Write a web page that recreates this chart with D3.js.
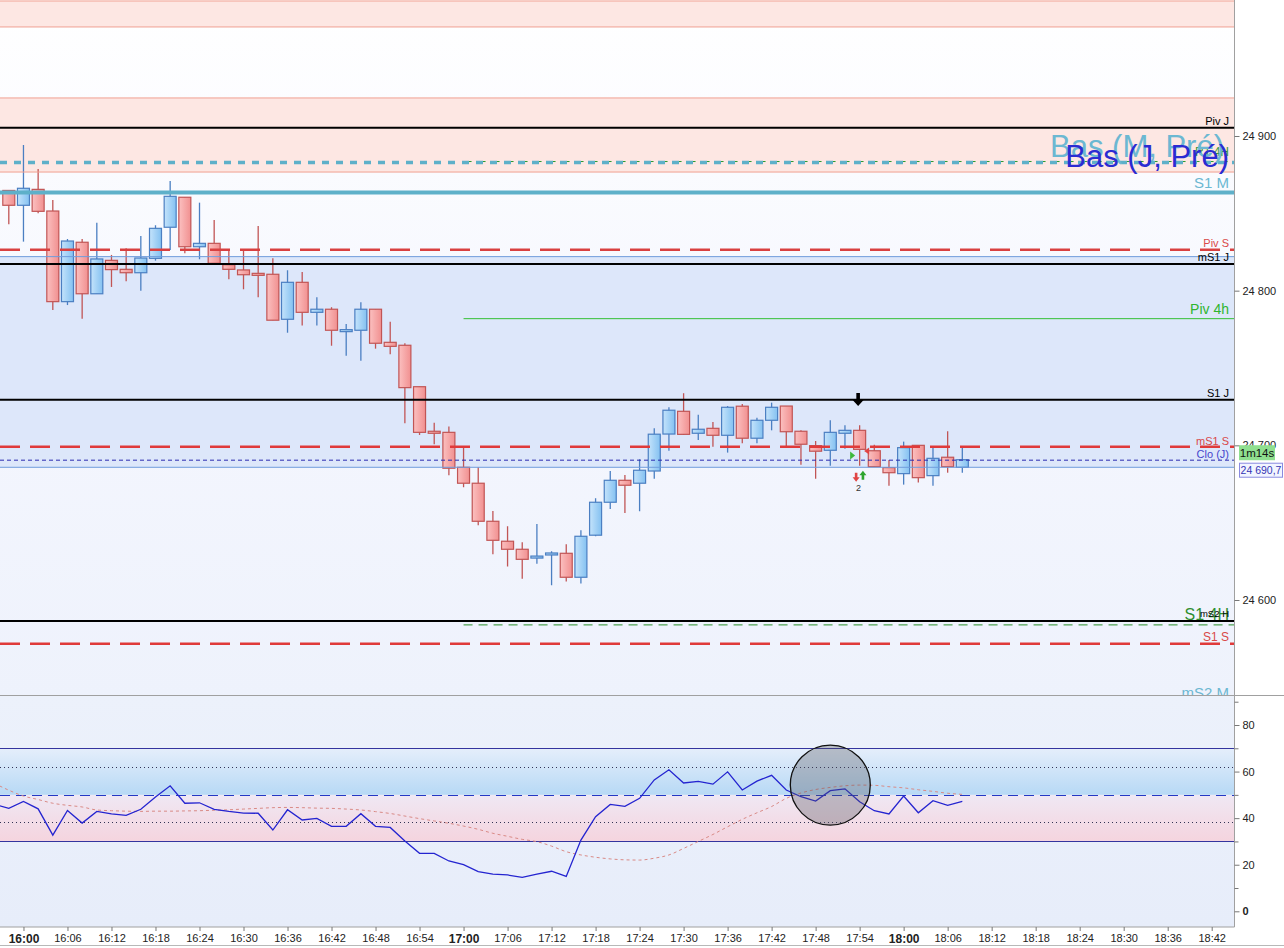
<!DOCTYPE html>
<html>
<head>
<meta charset="utf-8">
<script src="https://cdn.jsdelivr.net/npm/d3@7"></script>
<style>
  body { margin: 0; background: #ffffff; }
  svg { display: block; font-family: "Liberation Sans", Arial, sans-serif; }
</style>
</head>
<body>
<svg id="chart"></svg>
<script>
// ---- data ----
const candleTimes = ["15:58","16:00","16:02","16:04","16:06","16:08","16:10","16:12","16:14","16:16",
  "16:18","16:20","16:22","16:24","16:26","16:28","16:30","16:32","16:34","16:36",
  "16:38","16:40","16:42","16:44","16:46","16:48","16:50","16:52","16:54","16:56",
  "16:58","17:00","17:02","17:04","17:06","17:08","17:10","17:12","17:14","17:16",
  "17:18","17:20","17:22","17:24","17:26","17:28","17:30","17:32","17:34","17:36",
  "17:38","17:40","17:42","17:44","17:46","17:48","17:50","17:52","17:54","17:56",
  "17:58","18:00","18:02","18:04","18:06","18:08"];

const opens = [24864.8,24855.2,24865.5,24851.5,24792.9,24831.3,24798.0,24819.6,24813.8,24811.6,
  24820.9,24841.0,24860.4,24828.4,24830.6,24816.8,24813.4,24811.2,24810.6,24781.5,
  24805.4,24786.0,24788.0,24774.4,24774.4,24788.0,24766.6,24764.7,24737.9,24709.1,
  24708.4,24685.8,24675.5,24650.9,24638.0,24632.8,24627.8,24629.8,24630.2,24614.7,
  24641.9,24663.2,24677.4,24675.5,24683.4,24707.3,24722.0,24707.8,24711.0,24706.5,
  24725.3,24704.6,24716.2,24725.4,24709.1,24699.8,24696.8,24707.8,24709.7,24696.5,
  24685.6,24681.7,24700.0,24680.4,24692.3,24685.8];

const highs = [24865.0,24894.2,24878.7,24858.6,24833.4,24833.4,24843.9,24823.1,24827.4,24835.3,
  24842.3,24870.9,24860.4,24856.9,24845.7,24826.3,24826.3,24841.8,24820.9,24813.2,
  24812.1,24795.7,24789.3,24778.5,24792.5,24788.0,24779.9,24766.0,24737.9,24714.6,
  24712.1,24698.7,24685.8,24657.6,24647.7,24637.3,24649.2,24631.5,24636.0,24645.1,
  24665.8,24683.4,24680.8,24691.0,24711.0,24724.6,24733.7,24719.8,24715.1,24725.4,
  24726.7,24717.9,24727.6,24725.4,24709.7,24702.8,24716.2,24713.0,24713.0,24700.4,
  24690.5,24702.4,24700.0,24698.5,24709.1,24698.5];

const lows = [24842.9,24831.7,24850.0,24787.5,24790.7,24781.9,24798.0,24802.4,24806.1,24800.0,
  24819.4,24826.3,24824.2,24820.3,24817.7,24807.4,24800.9,24795.7,24780.9,24772.8,
  24777.4,24777.4,24764.4,24758.0,24754.7,24762.5,24758.9,24714.3,24706.7,24700.7,
  24680.6,24672.9,24648.3,24629.6,24621.6,24613.8,24623.5,24609.5,24611.9,24610.6,
  24641.2,24658.9,24656.3,24657.4,24678.4,24696.5,24706.7,24703.5,24699.1,24695.3,
  24701.3,24701.3,24709.7,24699.1,24687.5,24678.4,24686.8,24697.8,24686.8,24686.2,
  24673.9,24674.6,24675.9,24673.9,24682.3,24682.3];

const closes = [24855.2,24866.2,24851.3,24792.9,24832.1,24798.0,24820.5,24813.6,24811.6,24821.1,
  24840.3,24861.0,24828.4,24830.6,24817.7,24813.8,24810.3,24810.3,24780.9,24805.4,
  24786.0,24788.0,24774.4,24774.8,24788.0,24766.0,24764.0,24737.3,24708.4,24707.8,
  24685.2,24675.5,24650.9,24638.6,24632.8,24626.3,24628.4,24630.4,24614.7,24641.2,
  24663.2,24677.4,24674.2,24683.9,24707.2,24722.7,24707.1,24710.4,24706.5,24724.6,
  24704.6,24716.2,24724.6,24708.8,24700.7,24696.2,24708.4,24709.7,24697.4,24686.2,
  24682.3,24698.5,24679.1,24691.6,24686.2,24690.7];

// RSI starts one bar before the first visible candle
const rsiTimes = ["15:56"].concat(candleTimes);
const rsiValues = [46.0,44.2,47.2,44.0,32.7,43.3,37.9,42.9,41.8,41.2,43.8,
  49.1,53.9,46.4,46.6,43.8,42.9,42.2,42.1,34.9,43.6,
  39.2,39.9,36.5,36.5,41.9,36.5,36.0,30.2,24.9,24.9,
  21.6,20.0,17.0,16.0,15.6,14.6,16.0,17.2,15.0,30.6,
  40.6,45.9,45.1,48.5,56.4,60.8,55.1,55.8,54.6,59.9,
  52.1,55.9,58.4,52.1,49.2,47.3,51.8,52.6,47.0,43.2,
  41.8,49.5,42.3,47.5,45.5,47.2];
const signalValues = [55.0,52.0,49.5,48.0,46.4,45.5,44.8,43.5,43.2,43.0,42.9,
  43.0,43.0,43.1,43.2,43.4,43.6,43.9,44.2,44.5,44.6,
  44.5,44.3,44.2,43.9,43.5,42.8,42.0,40.9,39.8,38.8,
  37.8,36.6,35.2,33.5,32.2,30.9,29.9,28.0,25.6,24.2,
  23.2,22.5,22.1,22.0,22.8,24.2,27.0,30.0,33.0,36.3,
  39.5,42.3,45.0,48.5,50.8,52.3,53.2,53.9,54.2,54.1,
  53.5,53.0,52.2,51.5,50.7,50.2];

// horizontal levels
const levelNames  = ["Piv J","R1 4H","Bas (M, Pré)","Bas (J, Pré)","S1 M","Piv S","mS1 J","Piv 4h",
  "S1 J","mS1 S","Clo (J)","S1 4H","mS2 H","S1 S","mS2 M"];
const levelPrices = [24905.4,24883.5,24882.9,24876.7,24863.4,24826.5,24817.2,24781.9,
  24729.5,24699.1,24690.4,24583.9,24586.4,24571.7,24535.4];
const levelFrom   = [null,"17:00",null,null,null,null,null,"17:00",
  null,null,null,"17:00",null,null,null];

// shaded zones
const zoneHighs = [24987.3, 24924.6, 24822.0];
const zoneLows  = [24970.5, 24876.7, 24685.8];
const zoneKinds = ["resist", "resist", "support"];

// signal marks on the 17:54 bar
const markTimes  = ["17:54","17:54","17:54","17:54"];
const markKinds  = ["down","buy","sell","pair"];
const markPrices = [24725.4, 24693.4, 24696.4, 24683.6];

const highlightTime = "17:50";
const highlightValue = 54.2;

const priceTicks = [24600, 24700, 24800, 24900];
const rsiTicks = [0, 20, 40, 60, 80];
const rsiMinorTicks = [10, 30, 50, 70, 90];
const rsiLevels = [70, 61.8, 50, 38.2, 30];
const timeTicks = ["16:00","16:06","16:12","16:18","16:24","16:30","16:36","16:42","16:48","16:54",
  "17:00","17:06","17:12","17:18","17:24","17:30","17:36","17:42","17:48","17:54",
  "18:00","18:06","18:12","18:18","18:24","18:30","18:36","18:42"];
const timerText = "1m14s";

// ---- styles ----
const levelStyle = {
  "Piv J":        {stroke: "#000", w: 2,   dash: null,   color: "#000",    size: 11, dy: -3},
  "R1 4H":        {stroke: "#2e9a2e", w: 1, dash: "8,6", color: "#3a9a3a", size: 12, dy: -6},
  "Bas (M, Pré)": {stroke: "#5eb0c9", w: 3.5, dash: "7,7", color: "#6cb8d2", size: 31, dy: -5, dx: -5},
  "Bas (J, Pré)": {stroke: "none", w: 0, dash: null,   color: "#2b2bd2", size: 31, dy: -5},
  "S1 M":         {stroke: "#5eb0c9", w: 4, dash: null,  color: "#6cb8d2", size: 15, dy: -5},
  "Piv S":        {stroke: "#d94040", w: 2.4, dash: "20,10", color: "#d94848", size: 11, dy: -3},
  "mS1 J":        {stroke: "#000", w: 2,   dash: null,   color: "#000",    size: 11, dy: -3},
  "Piv 4h":       {stroke: "#33c033", w: 1, dash: null,  color: "#2fb52f", size: 14, dy: -5},
  "S1 J":         {stroke: "#000", w: 2,   dash: null,   color: "#000",    size: 11, dy: -3},
  "mS1 S":        {stroke: "#e03a3a", w: 2.4, dash: "20,10", color: "#d94848", size: 11, dy: -2},
  "Clo (J)":      {stroke: "#2a2ab0", w: 1, dash: "4,3", color: "#4545cc", size: 11, dy: -2.5},
  "S1 4H":        {stroke: "#2a8f2a", w: 1, dash: "9,6", color: "#2f8f2f", size: 16, dy: -4.5},
  "mS2 H":        {stroke: "#000", w: 2,   dash: null,   color: "#000",    size: 9.5, dy: -4},
  "S1 S":         {stroke: "#e03a3a", w: 2.4, dash: "20,10", color: "#d94848", size: 12, dy: -2.5},
  "mS2 M":        {stroke: "#5eb0c9", w: 1, dash: null,  color: "#6cb8d2", size: 15, dy: -2}
};

// ---- layout ----
const W = 1284, H = 948;
const plotRight = 1234.5, priceBottom = 695.5, rsiBottom = 927;

const parseT = d3.timeParse("%H:%M");
const x = d3.scaleTime().domain([parseT("15:58"), parseT("18:42")]).range([8.8, 1211.7]);
const yPrice = d3.scaleLinear().domain([24600, 24900]).range([600, 136]);
const yRsi = d3.scaleLinear().domain([0, 80]).range([911.3, 725]);

const loc = d3.formatLocale({decimal: ",", thousands: " ", grouping: [3], currency: ["", ""]});
const fmtInt = loc.format(",.0f"), fmtDec = loc.format(",.1f");

const candles = candleTimes.map((t, i) => ({t: parseT(t), o: opens[i], h: highs[i], l: lows[i], c: closes[i]}));
const rsi = rsiTimes.map((t, i) => ({t: parseT(t), v: rsiValues[i], s: signalValues[i]}));

const svg = d3.select("#chart").attr("width", W).attr("height", H);
const defs = svg.append("defs");

function addGradient(id, stops, vertical, y1, y2) {
    const g = defs.append("linearGradient").attr("id", id);
    if (vertical) {
        g.attr("gradientUnits", "userSpaceOnUse")
            .attr("x1", 0).attr("x2", 0).attr("y1", y1).attr("y2", y2);
    } else {
        g.attr("x1", "0%").attr("x2", "100%").attr("y1", "0%").attr("y2", "0%");
    }
    stops.forEach((c, i) => g.append("stop")
        .attr("offset", (i / (stops.length - 1) * 100) + "%")
        .attr("stop-color", c));
}

addGradient("bgPrice", ["#ffffff", "#f5f7fe", "#eef2fc"], true, 0, priceBottom);
addGradient("bgRsi", ["#ecf1fb", "#e7edfa"], true, priceBottom, rsiBottom);
addGradient("rsiUp", ["#e5eefb", "#b7d9f5"], true, yRsi(70), yRsi(50));
addGradient("rsiDown", ["#efe8f4", "#f5d4de"], true, yRsi(50), yRsi(30));
addGradient("bullFill", ["#c4e3fb", "#84c1f1"], false);
addGradient("bearFill", ["#fbc0c0", "#f19090"], false);

defs.append("clipPath").attr("id", "clipPrice")
    .append("rect").attr("x", 0).attr("y", 0).attr("width", plotRight).attr("height", priceBottom);
defs.append("clipPath").attr("id", "clipRsi")
    .append("rect").attr("x", 0).attr("y", priceBottom).attr("width", plotRight).attr("height", rsiBottom - priceBottom);

// ---- price panel ----
const price = svg.append("g").attr("clip-path", "url(#clipPrice)");

price.append("rect")
    .attr("x", 0).attr("y", 0).attr("width", plotRight).attr("height", priceBottom)
    .attr("fill", "url(#bgPrice)");

const zones = zoneHighs.map((h, i) => ({h: h, l: zoneLows[i], kind: zoneKinds[i]}));
price.selectAll(".zone").data(zones).enter().append("rect")
    .attr("class", "zone")
    .attr("x", 0).attr("width", plotRight)
    .attr("y", d => yPrice(d.h))
    .attr("height", d => yPrice(d.l) - yPrice(d.h))
    .attr("fill", d => d.kind == "resist" ? "#fde7e3" : "#dde7fa");

function plotCandles(g, data) {
    const bw = 12;
    const c = g.selectAll(".candle").data(data).enter().append("g")
        .attr("class", "candle");
    c.append("line")
        .attr("x1", d => x(d.t)).attr("x2", d => x(d.t))
        .attr("y1", d => yPrice(d.h)).attr("y2", d => yPrice(d.l))
        .attr("stroke", d => d.c >= d.o ? "#4b7fc2" : "#c15555")
        .attr("stroke-width", 1.3);
    c.append("rect")
        .attr("x", d => x(d.t) - bw / 2)
        .attr("width", bw)
        .attr("y", d => yPrice(Math.max(d.o, d.c)))
        .attr("height", d => Math.max(2, yPrice(Math.min(d.o, d.c)) - yPrice(Math.max(d.o, d.c))))
        .attr("fill", d => d.c >= d.o ? "url(#bullFill)" : "url(#bearFill)")
        .attr("stroke", d => d.c >= d.o ? "#4b7fc2" : "#c15555")
        .attr("stroke-width", 1.2);
}
plotCandles(price, candles);

const levels = levelNames.map((n, i) => ({name: n, p: levelPrices[i], from: levelFrom[i], st: levelStyle[n]}));

price.selectAll(".level").data(levels.filter(d => d.st.stroke != "none")).enter().append("line")
    .attr("class", "level")
    .attr("x1", d => d.from ? x(parseT(d.from)) : 0)
    .attr("x2", plotRight)
    .attr("y1", d => yPrice(d.p)).attr("y2", d => yPrice(d.p))
    .attr("stroke", d => d.st.stroke)
    .attr("stroke-width", d => d.st.w)
    .attr("stroke-dasharray", d => d.st.dash);

// zone edges
zones.forEach(z => {
    [z.h, z.l].forEach(p => {
        price.append("line")
            .attr("x1", 0).attr("x2", plotRight)
            .attr("y1", yPrice(p)).attr("y2", yPrice(p))
            .attr("stroke", z.kind == "resist" ? "#f0a091" : "#6f9cdc")
            .attr("stroke-width", 1);
    });
});

price.selectAll(".levelLabel").data(levels).enter().append("text")
    .attr("class", "levelLabel")
    .attr("x", d => 1229 + (d.st.dx || 0))
    .attr("y", d => yPrice(d.p) + d.st.dy)
    .attr("text-anchor", "end")
    .attr("font-size", d => d.st.size)
    .attr("fill", d => d.st.color)
    .text(d => d.name);

function arrowPath(cx, tip, dir) {
    // dir 1 = pointing down, -1 = pointing up
    const s = dir;
    return "M" + (cx - 1.8) + "," + (tip - s * 13) + "L" + (cx + 1.8) + "," + (tip - s * 13) +
        "L" + (cx + 1.8) + "," + (tip - s * 6) + "L" + (cx + 5.5) + "," + (tip - s * 6) +
        "L" + cx + "," + tip + "L" + (cx - 5.5) + "," + (tip - s * 6) +
        "L" + (cx - 1.8) + "," + (tip - s * 6) + "Z";
}

function plotMarks(g) {
    markTimes.forEach((t, i) => {
        const cx = x(parseT(t)), py = yPrice(markPrices[i]);
        if (markKinds[i] == "down") {
            g.append("path").attr("d", arrowPath(cx - 1.5, py, 1)).attr("fill", "#000");
        } else if (markKinds[i] == "buy") {
            g.append("path")
                .attr("d", "M" + (cx - 9.5) + "," + (py - 4) + "L" + (cx - 4.5) + "," + py + "L" + (cx - 9.5) + "," + (py + 4) + "Z")
                .attr("fill", "#3cb83c");
        } else if (markKinds[i] == "sell") {
            g.append("path")
                .attr("d", "M" + (cx + 9.5) + "," + (py - 3.5) + "L" + (cx + 4.5) + "," + py + "L" + (cx + 9.5) + "," + (py + 3.5) + "Z")
                .attr("fill", "#e04444");
        } else {
            const sm = (cx0, tip, dir, col) => g.append("path")
                .attr("d", "M" + (cx0 - 1.3) + "," + (tip - dir * 9) + "L" + (cx0 + 1.3) + "," + (tip - dir * 9) +
                    "L" + (cx0 + 1.3) + "," + (tip - dir * 4.5) + "L" + (cx0 + 3.5) + "," + (tip - dir * 4.5) +
                    "L" + cx0 + "," + tip + "L" + (cx0 - 3.5) + "," + (tip - dir * 4.5) +
                    "L" + (cx0 - 1.3) + "," + (tip - dir * 4.5) + "Z")
                .attr("fill", col);
            sm(cx - 3.5, py + 11, 1, "#e04444");
            sm(cx + 3.3, py, -1, "#2ea52e");
            g.append("text")
                .attr("x", cx - 1).attr("y", py + 20.5)
                .attr("text-anchor", "middle")
                .attr("font-size", 9)
                .attr("fill", "#333")
                .text("2");
        }
    });
}
plotMarks(price);

// ---- RSI panel ----
const osc = svg.append("g").attr("clip-path", "url(#clipRsi)");

osc.append("rect")
    .attr("x", 0).attr("y", priceBottom).attr("width", plotRight).attr("height", rsiBottom - priceBottom)
    .attr("fill", "url(#bgRsi)");
osc.append("rect")
    .attr("x", 0).attr("width", plotRight)
    .attr("y", yRsi(70)).attr("height", yRsi(50) - yRsi(70))
    .attr("fill", "url(#rsiUp)");
osc.append("rect")
    .attr("x", 0).attr("width", plotRight)
    .attr("y", yRsi(50)).attr("height", yRsi(30) - yRsi(50))
    .attr("fill", "url(#rsiDown)");

osc.selectAll(".rsiLevel").data(rsiLevels).enter().append("line")
    .attr("class", "rsiLevel")
    .attr("x1", 0).attr("x2", plotRight)
    .attr("y1", d => Math.round(yRsi(d)) + 0.5).attr("y2", d => Math.round(yRsi(d)) + 0.5)
    .attr("stroke", d => (d == 70 || d == 30) ? "#34349e" : (d == 50 ? "#2438c4" : "#333355"))
    .attr("stroke-width", 1)
    .attr("stroke-dasharray", d => (d == 70 || d == 30) ? null : (d == 50 ? "10,6" : "1,3"));

osc.append("path")
    .datum(rsi)
    .attr("d", d3.line().x(d => x(d.t)).y(d => yRsi(d.s)).curve(d3.curveMonotoneX))
    .attr("fill", "none")
    .attr("stroke", "#d98a86")
    .attr("stroke-width", 1)
    .attr("stroke-dasharray", "3,3");

osc.append("path")
    .datum(rsi)
    .attr("d", d3.line().x(d => x(d.t)).y(d => yRsi(d.v)))
    .attr("fill", "none")
    .attr("stroke", "#2424d0")
    .attr("stroke-width", 1.3);

osc.append("circle")
    .attr("cx", x(parseT(highlightTime)))
    .attr("cy", yRsi(highlightValue))
    .attr("r", 40)
    .attr("fill", "rgba(80,80,90,0.32)")
    .attr("stroke", "#111")
    .attr("stroke-width", 1.3);

// ---- frame and axes ----
svg.append("line")
    .attr("x1", 0).attr("x2", W).attr("y1", priceBottom).attr("y2", priceBottom)
    .attr("stroke", "#a0a0a0");
svg.append("line")
    .attr("x1", plotRight).attr("x2", plotRight).attr("y1", 0).attr("y2", rsiBottom)
    .attr("stroke", "#a0a0a0");
svg.append("line")
    .attr("x1", 0).attr("x2", plotRight).attr("y1", rsiBottom).attr("y2", rsiBottom)
    .attr("stroke", "#a0a0a0");
svg.append("line")
    .attr("x1", 0).attr("x2", W).attr("y1", 945.5).attr("y2", 945.5)
    .attr("stroke", "#b8b8b8");

function styleAxis(g, size) {
    g.select(".domain").remove();
    g.selectAll(".tick line").attr("stroke", "#777");
    g.selectAll(".tick text").attr("fill", "#222").attr("font-size", size)
        .attr("font-family", "\"Liberation Sans\", Arial, sans-serif");
}

const priceAxis = svg.append("g")
    .attr("transform", "translate(" + plotRight + ",0)")
    .call(d3.axisRight(yPrice).tickValues(priceTicks).tickSize(5).tickPadding(3).tickFormat(fmtInt));
styleAxis(priceAxis, 11);

const rsiAxis = svg.append("g")
    .attr("transform", "translate(" + plotRight + ",0)")
    .call(d3.axisRight(yRsi).tickValues(rsiTicks).tickSize(5).tickPadding(3).tickFormat(d3.format("d")));
styleAxis(rsiAxis, 11);
rsiAxis.selectAll(".tick text").filter(d => d == 0).attr("font-weight", "bold");

const rsiMinor = svg.append("g")
    .attr("transform", "translate(" + plotRight + ",0)")
    .call(d3.axisRight(yRsi).tickValues(rsiMinorTicks).tickSize(4).tickFormat(""));
styleAxis(rsiMinor, 11);

const timeAxis = svg.append("g")
    .attr("transform", "translate(0," + rsiBottom + ")")
    .call(d3.axisBottom(x).tickValues(timeTicks.map(parseT)).tickSize(4).tickPadding(3)
        .tickFormat(d3.timeFormat("%H:%M")));
styleAxis(timeAxis, 11);
timeAxis.selectAll(".tick text").filter(d => d.getMinutes() == 0)
    .attr("font-weight", "bold").attr("font-size", 12);

// current price and bar timer
const last = closes[closes.length - 1];
const lastY = yPrice(last);

svg.append("rect")
    .attr("x", 1239).attr("y", lastY - 14.5).attr("width", 36).attr("height", 15)
    .attr("fill", "#8fdf8f");
svg.append("text")
    .attr("x", 1257).attr("y", lastY - 3)
    .attr("text-anchor", "middle").attr("font-size", 11.5).attr("fill", "#111")
    .text(timerText);

svg.append("rect")
    .attr("x", 1239.5).attr("y", lastY + 3.5).attr("width", 43).attr("height", 14)
    .attr("fill", "#f2f5ff").attr("stroke", "#8a8ae0");
svg.append("text")
    .attr("x", 1261).attr("y", lastY + 14.5)
    .attr("text-anchor", "middle")
    .attr("font-size", 10.5).attr("fill", "#3535b5")
    .text(fmtDec(last));
</script>
</body>
</html>
